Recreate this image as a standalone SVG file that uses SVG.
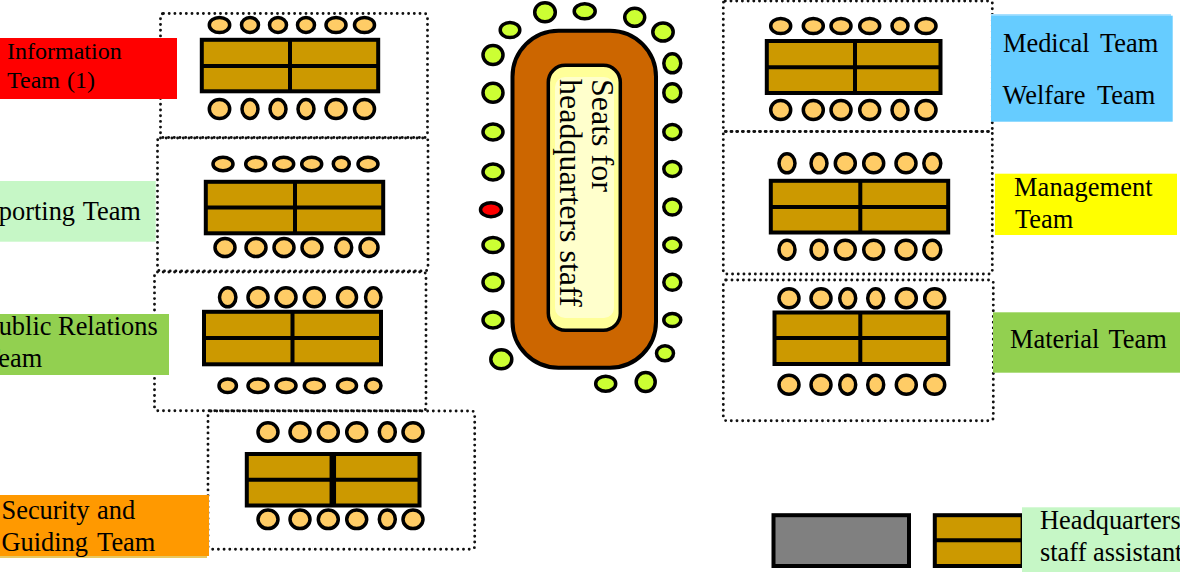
<svg xmlns="http://www.w3.org/2000/svg" width="1180" height="572" viewBox="0 0 1180 572">
<style>
.zone{fill:none;stroke:#111;stroke-width:2.900;stroke-linecap:round;stroke-dasharray:0 5.700}
.t{fill:#cc9900;stroke:#000;stroke-width:4}
.l{stroke:#000;stroke-width:4;fill:none}
.s ellipse{fill:#ffcc66;stroke:#000;stroke-width:3.500}
.g ellipse{fill:#ccff33;stroke:#000;stroke-width:3.500}
text{font-family:"Liberation Serif","Times New Roman",serif;font-size:26.400px;fill:#000}
</style>
<rect width="1180" height="572" fill="#fff"/>

<g id="info-area">
<rect class="zone" x="160.500" y="13.500" width="267" height="124" rx="3"/>
<rect class="t" x="201.800" y="39.800" width="176.400" height="51.500"/>
<path class="l" d="M290 39.800V91.300M201.800 66H378.200"/>
<g class="s">
<ellipse cx="219.500" cy="25" rx="10.200" ry="7.500"/><ellipse cx="250" cy="25" rx="8.500" ry="7.500"/><ellipse cx="278" cy="25" rx="8.500" ry="7.500"/><ellipse cx="306" cy="25" rx="8.500" ry="7.500"/><ellipse cx="336" cy="25" rx="10" ry="7.500"/><ellipse cx="364.500" cy="25" rx="10" ry="7.500"/>
<ellipse cx="219.500" cy="109" rx="10.200" ry="9.500"/><ellipse cx="250" cy="109" rx="8" ry="9.500"/><ellipse cx="278" cy="109" rx="8" ry="9.500"/><ellipse cx="306" cy="109" rx="8" ry="9.500"/><ellipse cx="336" cy="109" rx="10" ry="9.500"/><ellipse cx="364.500" cy="109" rx="10" ry="9.500"/>
</g>
</g>

<g id="reporting-area">
<rect class="zone" x="157.500" y="138" width="270.500" height="133" rx="3"/>
<rect class="t" x="205.800" y="181.800" width="177.400" height="51.500"/>
<path class="l" d="M295 181.800V233.300M205.800 207.500H383.200"/>
<g class="s">
<ellipse cx="223" cy="164" rx="10" ry="6.800"/><ellipse cx="255.700" cy="164" rx="10" ry="6.800"/><ellipse cx="283.700" cy="164" rx="10" ry="6.800"/><ellipse cx="311.700" cy="164" rx="10" ry="6.800"/><ellipse cx="341.300" cy="164" rx="8" ry="6.800"/><ellipse cx="368" cy="164" rx="10" ry="6.800"/>
<ellipse cx="225" cy="247.500" rx="10" ry="9"/><ellipse cx="256" cy="247.500" rx="10" ry="9"/><ellipse cx="284" cy="247.500" rx="10" ry="9"/><ellipse cx="312" cy="247.500" rx="10" ry="9"/><ellipse cx="343.700" cy="247.500" rx="8" ry="9"/><ellipse cx="369" cy="247.500" rx="9" ry="9"/>
</g>
</g>

<g id="public-area">
<rect class="zone" x="154.500" y="272" width="271.500" height="138.700" rx="3"/>
<rect class="t" x="204" y="311.800" width="177" height="52.500"/>
<path class="l" d="M292.500 311.800V364.300M204 338H381"/>
<g class="s">
<ellipse cx="227.700" cy="297.300" rx="8.200" ry="9.500"/><ellipse cx="258" cy="297.300" rx="10" ry="9.500"/><ellipse cx="286" cy="297.300" rx="10" ry="9.500"/><ellipse cx="314.300" cy="297.300" rx="10" ry="9.500"/><ellipse cx="347" cy="297.300" rx="9.500" ry="9.500"/><ellipse cx="373.300" cy="297.300" rx="7.700" ry="9.500"/>
<ellipse cx="227.700" cy="385.700" rx="8.700" ry="6.800"/><ellipse cx="258" cy="385.700" rx="10" ry="6.800"/><ellipse cx="286" cy="385.700" rx="10" ry="6.800"/><ellipse cx="314.300" cy="385.700" rx="10" ry="6.800"/><ellipse cx="347" cy="385.700" rx="9.500" ry="6.800"/><ellipse cx="373.300" cy="385.700" rx="7.700" ry="6.800"/>
</g>
</g>

<g id="security-area">
<rect class="zone" x="208" y="411" width="266.700" height="138.300" rx="3"/>
<rect class="t" x="246.800" y="454" width="172.700" height="51.500"/>
<path class="l" d="M246.800 479.700H419.500"/>
<path d="M332.800 454V505.500" stroke="#000" stroke-width="6.500" fill="none"/>
<g class="s">
<ellipse cx="268" cy="432" rx="10" ry="9.300"/><ellipse cx="300" cy="432" rx="10" ry="9.300"/><ellipse cx="328.300" cy="432" rx="10" ry="9.300"/><ellipse cx="356.700" cy="432" rx="10" ry="9.300"/><ellipse cx="387.300" cy="432" rx="8" ry="9.300"/><ellipse cx="413" cy="432" rx="10" ry="9.300"/>
<ellipse cx="268" cy="519.300" rx="10" ry="9.300"/><ellipse cx="300" cy="519.300" rx="10" ry="9.300"/><ellipse cx="328.300" cy="519.300" rx="10" ry="9.300"/><ellipse cx="356.700" cy="519.300" rx="10" ry="9.300"/><ellipse cx="387.300" cy="519.300" rx="8" ry="9.300"/><ellipse cx="413" cy="519.300" rx="10" ry="9.300"/>
</g>
</g>

<g id="headquarters-table">
<rect x="512.500" y="30.700" width="143.500" height="337" rx="46" fill="#cc6600" stroke="#000" stroke-width="4"/>
<rect x="548.300" y="65.300" width="72" height="265" rx="17" fill="#ffff99" stroke="#000" stroke-width="3.500"/>
<rect x="555" y="77" width="59" height="241" rx="10" fill="#ffffcc"/>
<text transform="translate(591.700 79) rotate(90)" style="font-size:32px">Seats for</text>
<text transform="translate(560 79) rotate(90)" style="font-size:32px">headquarters staff</text>
<g class="g">
<ellipse cx="510" cy="30" rx="9.800" ry="7.500"/><ellipse cx="545" cy="12.300" rx="10.300" ry="9.500"/><ellipse cx="584.700" cy="11.300" rx="10.500" ry="7.500"/><ellipse cx="634.700" cy="17.300" rx="10" ry="9"/><ellipse cx="663" cy="32" rx="10.200" ry="9"/>
<ellipse cx="672.300" cy="63.300" rx="8.500" ry="9.500"/><ellipse cx="672.300" cy="92.700" rx="8.500" ry="9"/><ellipse cx="672.300" cy="132" rx="8.500" ry="7.500"/><ellipse cx="672.300" cy="169" rx="8.500" ry="7.500"/><ellipse cx="672.300" cy="207" rx="8.500" ry="8"/><ellipse cx="672.300" cy="245" rx="8.500" ry="7"/><ellipse cx="672.300" cy="282.300" rx="8.500" ry="8"/><ellipse cx="672.300" cy="320" rx="8.500" ry="6.500"/>
<ellipse cx="665" cy="353.300" rx="8.500" ry="7.500"/><ellipse cx="645.700" cy="382" rx="9.500" ry="9.500"/><ellipse cx="605.700" cy="383.700" rx="10" ry="7.500"/><ellipse cx="501.300" cy="359.300" rx="10.500" ry="9.500"/>
<ellipse cx="493" cy="55" rx="10" ry="9.500"/><ellipse cx="493" cy="92.700" rx="10" ry="9.500"/><ellipse cx="493" cy="132" rx="10" ry="8"/><ellipse cx="493" cy="172" rx="10" ry="8"/><ellipse cx="493" cy="245" rx="10" ry="7.500"/><ellipse cx="493" cy="282.300" rx="10" ry="8.500"/><ellipse cx="493" cy="320" rx="10" ry="8"/>
</g>
<ellipse id="red-seat" cx="491" cy="209.700" rx="10.500" ry="7" fill="#ff0000" stroke="#000" stroke-width="3.500"/>
</g>

<g id="medical-welfare-area">
<rect class="zone" x="723.300" y="1" width="269" height="130.500" rx="2"/>
<rect class="t" x="766.800" y="41" width="173.700" height="52"/>
<path class="l" d="M855 41V93M766.800 67.300H940.500"/>
<g class="s">
<ellipse cx="780.700" cy="26" rx="10" ry="7.500"/><ellipse cx="813.300" cy="26" rx="10" ry="7.500"/><ellipse cx="841" cy="26" rx="10" ry="7.500"/><ellipse cx="869.700" cy="26" rx="10" ry="7.500"/><ellipse cx="900" cy="26" rx="8" ry="7.500"/><ellipse cx="926" cy="26" rx="10" ry="7.500"/>
<ellipse cx="780.700" cy="110" rx="10" ry="9.500"/><ellipse cx="813.300" cy="110" rx="10" ry="9.500"/><ellipse cx="841" cy="110" rx="10" ry="9.500"/><ellipse cx="869.700" cy="110" rx="10" ry="9.500"/><ellipse cx="900" cy="110" rx="8" ry="9.500"/><ellipse cx="926" cy="110" rx="10" ry="9.500"/>
</g>
</g>

<g id="management-area">
<rect class="zone" x="723.300" y="131.500" width="269" height="142.500" rx="2"/>
<rect class="t" x="770.800" y="180.800" width="177.400" height="51.700"/>
<path class="l" d="M860.300 180.800V232.500M770.800 207H948.200"/>
<g class="s">
<ellipse cx="787" cy="163.300" rx="8" ry="9.500"/><ellipse cx="819" cy="163.300" rx="8" ry="9.500"/><ellipse cx="845.300" cy="163.300" rx="10" ry="9.500"/><ellipse cx="873.700" cy="163.300" rx="10" ry="9.500"/><ellipse cx="906" cy="163.300" rx="10" ry="9.500"/><ellipse cx="932.300" cy="163.300" rx="8.500" ry="9.500"/>
<ellipse cx="787" cy="249.700" rx="8" ry="9.500"/><ellipse cx="819" cy="249.700" rx="8" ry="9.500"/><ellipse cx="845.300" cy="249.700" rx="10" ry="9.500"/><ellipse cx="873.700" cy="249.700" rx="10" ry="9.500"/><ellipse cx="906" cy="249.700" rx="10" ry="9.500"/><ellipse cx="932.300" cy="249.700" rx="8.500" ry="9.500"/>
</g>
</g>

<g id="material-area">
<rect class="zone" x="723.300" y="280" width="270" height="140.700" rx="3"/>
<rect class="t" x="774.500" y="312.500" width="173.700" height="51.500"/>
<path class="l" d="M860.300 312.500V364M774.500 338H948.200"/>
<g class="s">
<ellipse cx="789" cy="298.300" rx="10" ry="9.500"/><ellipse cx="821" cy="298.300" rx="10" ry="9.500"/><ellipse cx="847.700" cy="298.300" rx="8" ry="9.500"/><ellipse cx="875.700" cy="298.300" rx="8" ry="9.500"/><ellipse cx="906.300" cy="298.300" rx="10" ry="9.500"/><ellipse cx="934.700" cy="298.300" rx="10" ry="9.500"/>
<ellipse cx="789" cy="384.700" rx="10" ry="9.500"/><ellipse cx="821" cy="384.700" rx="10" ry="9.500"/><ellipse cx="847.700" cy="384.700" rx="8" ry="9.500"/><ellipse cx="875.700" cy="384.700" rx="8" ry="9.500"/><ellipse cx="906.300" cy="384.700" rx="10" ry="9.500"/><ellipse cx="934.700" cy="384.700" rx="10" ry="9.500"/>
</g>
</g>

<g id="legend">
<rect x="773.500" y="515.200" width="135.500" height="50.800" fill="#808080" stroke="#000" stroke-width="4"/>
<rect class="t" x="934.800" y="515.200" width="87.800" height="50.800"/>
<path class="l" d="M934.800 540.300H1022.600"/>
</g>

<g id="label-information"><rect x="0" y="38" width="177" height="61" fill="#ff0000"/><text x="7" y="59.300" style="font-size:24px">Information</text><text x="7" y="88.300" style="font-size:24px" word-spacing="1">Team (1)</text></g>
<g id="label-reporting"><rect x="0" y="181" width="155.700" height="60.700" fill="#c6f7c6"/><text x="-30.500" y="220" word-spacing="1.500">Reporting Team</text></g>
<g id="label-public"><rect x="0" y="314" width="169" height="61" fill="#92d050"/><text x="-16" y="334.700">Public Relations</text><text x="-16" y="367.300">Team</text></g>
<g id="label-security"><rect x="0" y="497" width="207" height="61" fill="#e8c860"/><rect x="0" y="495" width="209" height="61" fill="#ff9900"/><text x="1.500" y="519" word-spacing="1">Security and</text><text x="1.500" y="551" word-spacing="3">Guiding Team</text></g>
<g id="label-medical-welfare"><rect x="991" y="14" width="180" height="4" fill="#a8e0ff"/><rect x="991" y="15.700" width="181.700" height="106" fill="#66ccff"/><text x="1003" y="51.700" word-spacing="4.500">Medical Team</text><text x="1002.500" y="103.700" word-spacing="5.500">Welfare Team</text></g>
<g id="label-management"><rect x="995" y="173.700" width="182" height="61.300" fill="#ffff00"/><text x="1014" y="195.700" letter-spacing="0.100">Management</text><text x="1015" y="227.700">Team</text></g>
<g id="label-material"><rect x="993" y="312.300" width="187" height="60.400" fill="#92d050"/><text x="1010" y="347.700" word-spacing="3">Material Team</text></g>
<g id="label-assistant"><rect x="1022" y="507.300" width="158" height="64.700" fill="#c6f7c6"/><text x="1040" y="529.300">Headquarters</text><text x="1040" y="560.700">staff assistant</text></g>
</svg>
